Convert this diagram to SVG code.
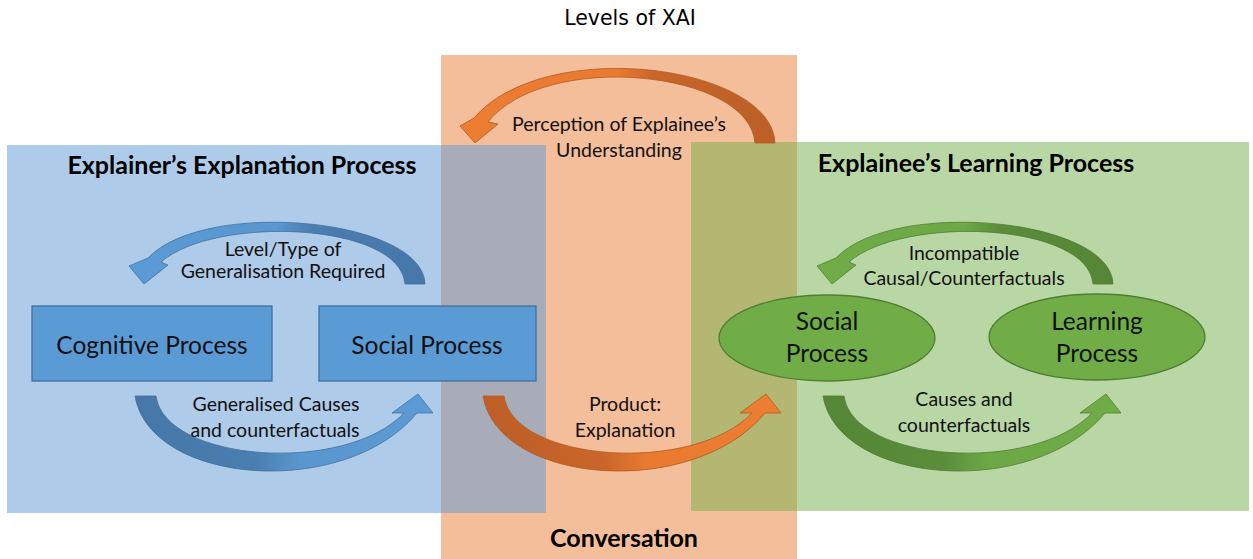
<svg xmlns="http://www.w3.org/2000/svg" width="1253" height="559" viewBox="0 0 1253 559">
<defs>
<style>
.lbl{font-family:Lato,"Open Sans","Liberation Sans",sans-serif;font-size:19.5px;fill:#111;text-anchor:middle}
.head{font-family:Lato,"Open Sans","Liberation Sans",sans-serif;font-size:25px;font-weight:bold;fill:#000;text-anchor:middle}
.node{font-family:Lato,"Open Sans","Liberation Sans",sans-serif;font-size:24.5px;fill:#111;text-anchor:middle}
.title{font-family:"DejaVu Sans","Liberation Sans",sans-serif;font-size:20.5px;fill:#000;text-anchor:middle}
.box{fill:#5b9bd5;stroke:#41719c;stroke-width:1.3}
.ell{fill:#70ad47;stroke:#507e32;stroke-width:1.3}
</style>
<linearGradient id="gBlueTop" x1="0" y1="0" x2="1" y2="0">
<stop offset="0" stop-color="#5b9bd5"/><stop offset="0.5" stop-color="#5a96cf"/><stop offset="0.62" stop-color="#4a7db0"/><stop offset="1" stop-color="#4677a8"/></linearGradient>
<linearGradient id="gBlueBot" x1="0" y1="0" x2="1" y2="0">
<stop offset="0" stop-color="#4677a8"/><stop offset="0.4" stop-color="#4a7db0"/><stop offset="0.55" stop-color="#5a96cf"/><stop offset="1" stop-color="#5b9bd5"/></linearGradient>
<linearGradient id="gOrTop" x1="0" y1="0" x2="1" y2="0">
<stop offset="0" stop-color="#ed7d31"/><stop offset="0.5" stop-color="#e97a30"/><stop offset="0.62" stop-color="#c8652a"/><stop offset="1" stop-color="#bd5f27"/></linearGradient>
<linearGradient id="gOrBot" x1="0" y1="0" x2="1" y2="0">
<stop offset="0" stop-color="#bd5f27"/><stop offset="0.4" stop-color="#c8652a"/><stop offset="0.55" stop-color="#e97a30"/><stop offset="1" stop-color="#ed7d31"/></linearGradient>
<linearGradient id="gGrTop" x1="0" y1="0" x2="1" y2="0">
<stop offset="0" stop-color="#70ad47"/><stop offset="0.5" stop-color="#6ca845"/><stop offset="0.62" stop-color="#5a8c3a"/><stop offset="1" stop-color="#558636"/></linearGradient>
<linearGradient id="gGrBot" x1="0" y1="0" x2="1" y2="0">
<stop offset="0" stop-color="#558636"/><stop offset="0.4" stop-color="#5a8c3a"/><stop offset="0.55" stop-color="#6ca845"/><stop offset="1" stop-color="#70ad47"/></linearGradient>
<path id="arcTop" d="M425,284 C423,218 205,198 148,258 L129,266 L144,284 L168,265 L161,262 C215,215 400,222 405,284 Z"/>
<path id="arcBot" d="M135,396 L156,396 C165,462 345,475 404,413 L392,413 L418,394 L433,413 L417,413 C345,500 150,485 135,396 Z"/>
</defs>
<rect width="1253" height="559" fill="#ffffff"/>
<g id="panels">
<rect id="panel-explainer" x="7" y="145" width="539" height="368" fill="#aecbe9"/>
<rect id="panel-conversation" x="441" y="55" width="356" height="504" fill="#f5be9a"/>
<rect id="panel-explainee" x="691" y="142" width="558" height="369" fill="#b9d7a5"/>
<rect x="441" y="145" width="105" height="368" fill="#a8abb8"/>
<rect x="691" y="142" width="106" height="369" fill="#b3b772"/>
</g>
<text class="title" x="630" y="25">Levels of XAI</text>
<text class="head" x="242" y="174">Explainer’s Explanation Process</text>
<text class="head" x="976" y="172">Explainee’s Learning Process</text>
<text class="head" x="624" y="547">Conversation</text>
<g id="connectors">
<g id="c-generalisation-required">
<use href="#arcTop" fill="url(#gBlueTop)" stroke="#41719c" stroke-width="0.8"/>
</g>
<g id="c-generalised-causes">
<use href="#arcBot" fill="url(#gBlueBot)" stroke="#41719c" stroke-width="0.8"/>
</g>
<g id="c-perception">
<path d="M775,143 C772,65 545,35 474,118 L460,126 L475,143 L498,124 L488,122 C545,50 750,70 755,143 Z" fill="url(#gOrTop)" stroke="#ae5a21" stroke-width="0.8"/>
</g>
<g id="c-product">
<use href="#arcBot" transform="translate(348,0)" fill="url(#gOrBot)" stroke="#ae5a21" stroke-width="0.8"/>
</g>
<g id="c-incompatible">
<use href="#arcTop" transform="translate(688,0)" fill="url(#gGrTop)" stroke="#507e32" stroke-width="0.8"/>
</g>
<g id="c-causes">
<use href="#arcBot" transform="translate(688,0)" fill="url(#gGrBot)" stroke="#507e32" stroke-width="0.8"/>
</g>
<text class="lbl" x="619" y="131">Perception of Explainee’s</text>
<text class="lbl" x="619" y="157">Understanding</text>
<text class="lbl" x="283" y="256">Level/Type of</text>
<text class="lbl" x="283" y="278">Generalisation Required</text>
<text class="lbl" x="276" y="411">Generalised Causes</text>
<text class="lbl" x="275" y="437">and counterfactuals</text>
<text class="lbl" x="625" y="411">Product:</text>
<text class="lbl" x="625" y="437">Explanation</text>
<text class="lbl" x="964" y="260">Incompatible</text>
<text class="lbl" x="964" y="285">Causal/Counterfactuals</text>
<text class="lbl" x="964" y="406">Causes and</text>
<text class="lbl" x="964" y="432">counterfactuals</text>
</g>
<g id="node-cognitive">
<rect class="box" x="32" y="306" width="240" height="75"/>
<text class="node" x="152" y="354">Cognitive Process</text>
</g>
<g id="node-social-explainer">
<rect class="box" x="319" y="306" width="217" height="75"/>
<text class="node" x="427" y="354">Social Process</text>
</g>
<g id="node-social-explainee">
<ellipse class="ell" cx="827" cy="338" rx="108" ry="43"/>
<text class="node" x="827" y="330">Social</text>
<text class="node" x="827" y="362">Process</text>
</g>
<g id="node-learning">
<ellipse class="ell" cx="1097" cy="337" rx="108" ry="43"/>
<text class="node" x="1097" y="330">Learning</text>
<text class="node" x="1097" y="362">Process</text>
</g>
</svg>
